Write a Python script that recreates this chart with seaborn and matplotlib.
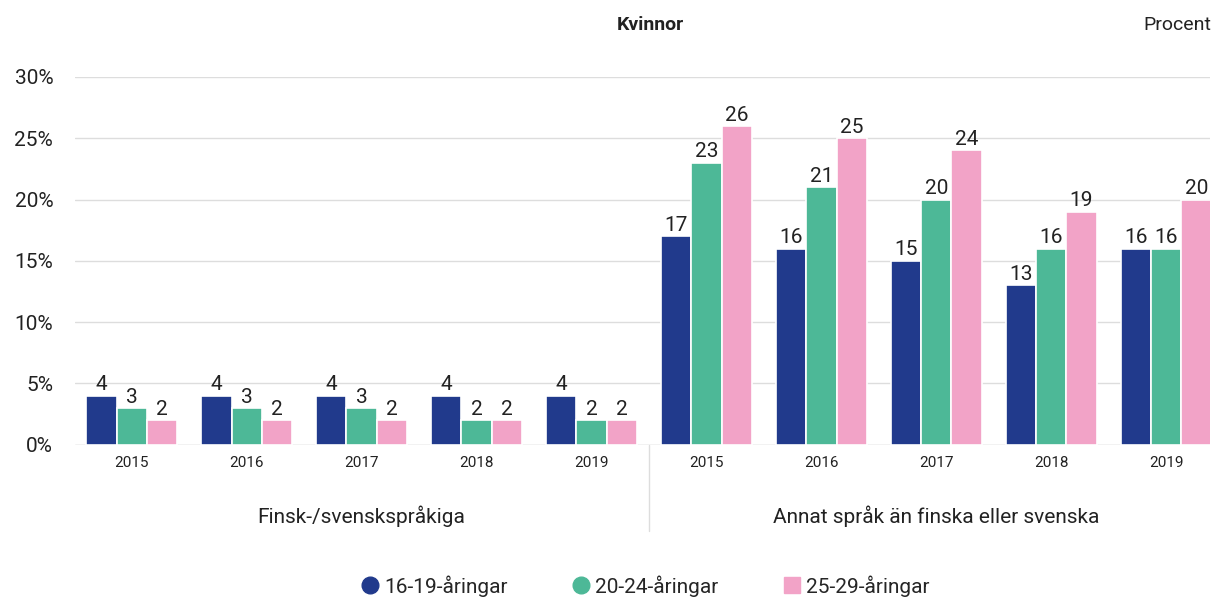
import pandas as pd
import seaborn as sns
import matplotlib.pyplot as plt
from matplotlib.lines import Line2D

# Data
years = ["2015", "2016", "2017", "2018", "2019"]
groups = ["Finsk-/svenskspråkiga", "Annat språk än finska eller svenska"]
age_groups = ["16-19-åringar", "20-24-åringar", "25-29-åringar"]
finsk_16_19 = [4, 4, 4, 4, 4]
finsk_20_24 = [3, 3, 3, 2, 2]
finsk_25_29 = [2, 2, 2, 2, 2]
annat_16_19 = [17, 16, 15, 13, 16]
annat_20_24 = [23, 21, 20, 16, 16]
annat_25_29 = [26, 25, 24, 19, 20]
colors = ["#213a8c", "#4db897", "#f2a3c7"]

rows = []
series = {
    groups[0]: [finsk_16_19, finsk_20_24, finsk_25_29],
    groups[1]: [annat_16_19, annat_20_24, annat_25_29],
}
for gi, g in enumerate(groups):
    for ai, age in enumerate(age_groups):
        for yi, yr in enumerate(years):
            rows.append({"key": f"{gi}-{yr}", "year": yr, "group": g,
                         "age": age, "value": series[g][ai][yi]})
df = pd.DataFrame(rows)
order = [f"{gi}-{yr}" for gi in range(len(groups)) for yr in years]

sns.set_style("white")
plt.rcParams["font.family"] = ["Roboto", "DejaVu Sans"]

fig, ax = plt.subplots(figsize=(12.16, 6.01), dpi=100)
fig.subplots_adjust(left=0.062, right=0.995, top=0.872, bottom=0.26)

sns.barplot(data=df, x="key", y="value", hue="age", order=order,
            hue_order=age_groups, palette=colors, width=0.79, saturation=1,
            edgecolor="white", linewidth=1.2, ax=ax, legend=False)

for cont in ax.containers:
    ax.bar_label(cont, fmt="%d", padding=1, fontsize=15, color="#222222")

ax.set_ylim(0, 30)
ax.set_xlim(-0.49, 9.38)
ax.set_yticks(range(0, 31, 5))
ax.set_yticklabels([f"{v}%" for v in range(0, 31, 5)], fontsize=15, color="#222222")
ax.set_xticks(range(len(order)))
ax.set_xticklabels(years * len(groups), fontsize=11, color="#222222")
ax.tick_params(axis="both", length=0, pad=8)
ax.tick_params(axis="y", pad=16)
ax.yaxis.grid(True, color="#dddddd", linewidth=1)
ax.set_axisbelow(True)
sns.despine(ax=ax, left=True, bottom=True)
ax.axhline(0, color="#dddddd", linewidth=1, zorder=0)
ax.set_xlabel("")
ax.set_ylabel("")

# divider between language groups
ax.plot([4.5, 4.5], [0, -0.235], transform=ax.get_xaxis_transform(),
        color="#dddddd", linewidth=1, clip_on=False)
for gi, g in enumerate(groups):
    ax.text(gi * 5 + 2, -0.195, g, transform=ax.get_xaxis_transform(),
            ha="center", va="center", fontsize=15, color="#222222")

fig.text(0.535, 0.958, "Kvinnor", ha="center", va="center",
         fontsize=14, fontweight="bold", color="#222222")
fig.text(0.996, 0.958, "Procent", ha="right", va="center",
         fontsize=14, color="#222222")

handles = [
    Line2D([], [], marker="o", linestyle="", markersize=12, color=colors[0]),
    Line2D([], [], marker="o", linestyle="", markersize=12, color=colors[1]),
    Line2D([], [], marker="s", linestyle="", markersize=12, color=colors[2]),
]
fig.legend(handles, age_groups, loc="center", bbox_to_anchor=(0.53, 0.025),
           ncol=3, frameon=False, fontsize=15, handletextpad=0.2,
           columnspacing=3.0, handlelength=1.0)

plt.savefig("out.png", dpi=100)
plt.close()
